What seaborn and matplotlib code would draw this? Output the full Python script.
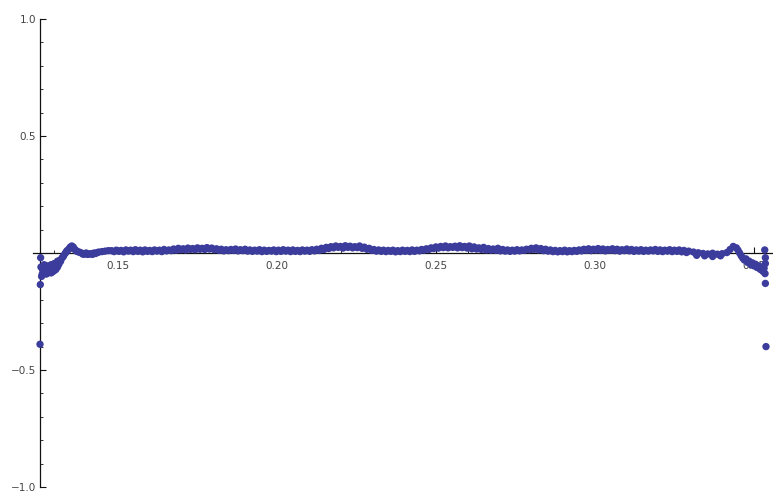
import matplotlib
matplotlib.use("Agg")
import matplotlib.pyplot as plt
from matplotlib.ticker import MultipleLocator, FixedLocator
import seaborn as sns
import pandas as pd

# ---- sampled residuals: left edge, flat middle band, right edge ----
x_left = [0.1255, 0.1256, 0.1257, 0.1258, 0.1260, 0.1262, 0.1263, 0.1266, 0.1268,
          0.1270, 0.1272, 0.1275, 0.1278, 0.1280, 0.1283, 0.1285, 0.1290, 0.1290,
          0.1293, 0.1295, 0.1300, 0.1300, 0.1303, 0.1305, 0.1310, 0.1310, 0.1313,
          0.1315, 0.1318, 0.1320, 0.1325, 0.1328, 0.1330, 0.1335, 0.1338, 0.1340,
          0.1345, 0.1348, 0.1350, 0.1355, 0.1358, 0.1360, 0.1365, 0.1368, 0.1370,
          0.1375, 0.1380, 0.1385, 0.1390, 0.1395, 0.1400, 0.1405, 0.1410, 0.1415,
          0.1420, 0.1425, 0.1430, 0.1435, 0.1440, 0.1450, 0.1460, 0.1470]
y_left = [-0.390, -0.135, -0.020, -0.060, -0.100, -0.090, -0.070, -0.085, -0.050,
          -0.080, -0.065, -0.090, -0.055, -0.085, -0.070, -0.080, -0.085, -0.050,
          -0.065, -0.080, -0.075, -0.045, -0.060, -0.070, -0.060, -0.035, -0.050,
          -0.045, -0.030, -0.035, -0.020, -0.015, -0.010, 0.000, 0.005, 0.010,
          0.015, 0.020, 0.025, 0.030, 0.022, 0.025, 0.015, 0.010, 0.008,
          0.005, 0.003, 0.000, -0.005, -0.005, 0.000, -0.006, -0.004, -0.003,
          -0.006, 0.000, -0.002, 0.002, 0.004, 0.006, 0.008, 0.010]

x_mid = [0.1480, 0.1495, 0.1510, 0.1525, 0.1540, 0.1555, 0.1570, 0.1585, 0.1600,
         0.1615, 0.1630, 0.1645, 0.1660, 0.1675, 0.1690, 0.1705, 0.1720, 0.1735,
         0.1750, 0.1765, 0.1780, 0.1795, 0.1810, 0.1825, 0.1840, 0.1855, 0.1870,
         0.1885, 0.1900, 0.1915, 0.1930, 0.1945, 0.1960, 0.1975, 0.1990, 0.2005,
         0.2020, 0.2035, 0.2050, 0.2065, 0.2080, 0.2095, 0.2110, 0.2125, 0.2140,
         0.2155, 0.2170, 0.2185, 0.2200, 0.2215, 0.2230, 0.2245, 0.2260, 0.2275,
         0.2290, 0.2305, 0.2320, 0.2335, 0.2350, 0.2365, 0.2380, 0.2395, 0.2410,
         0.2425, 0.2440, 0.2455, 0.2470, 0.2485, 0.2500, 0.2515, 0.2530, 0.2545,
         0.2560, 0.2575, 0.2590, 0.2605, 0.2620, 0.2635, 0.2650, 0.2665, 0.2680,
         0.2695, 0.2710, 0.2725, 0.2740, 0.2755, 0.2770, 0.2785, 0.2800, 0.2815,
         0.2830, 0.2845, 0.2860, 0.2875, 0.2890, 0.2905, 0.2920, 0.2935, 0.2950,
         0.2965, 0.2980, 0.2995, 0.3010, 0.3025, 0.3040, 0.3055, 0.3070, 0.3085,
         0.3100, 0.3115, 0.3130, 0.3145, 0.3160, 0.3175, 0.3190, 0.3205, 0.3220,
         0.3235, 0.3250, 0.3265, 0.3280, 0.3295, 0.3310, 0.3320, 0.3325, 0.3340,
         0.3345, 0.3355, 0.3370, 0.3370, 0.3385, 0.3395, 0.3400, 0.3415, 0.3425,
         0.3435, 0.3445]
y_mid = [0.010, 0.012, 0.011, 0.013, 0.012, 0.014, 0.012, 0.013, 0.011,
         0.013, 0.012, 0.015, 0.013, 0.017, 0.020, 0.018, 0.021, 0.019,
         0.022, 0.020, 0.023, 0.021, 0.018, 0.016, 0.014, 0.015, 0.017,
         0.014, 0.016, 0.013, 0.012, 0.014, 0.012, 0.011, 0.013, 0.012,
         0.014, 0.012, 0.013, 0.011, 0.013, 0.012, 0.014, 0.016, 0.020,
         0.024, 0.027, 0.030, 0.028, 0.031, 0.029, 0.027, 0.030, 0.025,
         0.020, 0.015, 0.013, 0.012, 0.011, 0.012, 0.010, 0.012, 0.011,
         0.013, 0.012, 0.015, 0.018, 0.022, 0.026, 0.028, 0.030, 0.027,
         0.029, 0.031, 0.028, 0.030, 0.026, 0.022, 0.024, 0.019, 0.017,
         0.020, 0.015, 0.013, 0.012, 0.014, 0.013, 0.016, 0.020, 0.022,
         0.019, 0.016, 0.013, 0.011, 0.010, 0.012, 0.010, 0.011, 0.013,
         0.016, 0.018, 0.016, 0.019, 0.017, 0.015, 0.018, 0.016, 0.014,
         0.017, 0.015, 0.013, 0.014, 0.012, 0.013, 0.015, 0.013, 0.012,
         0.014, 0.012, 0.013, 0.011, 0.008, 0.004, -0.010, 0.001, -0.002,
         -0.012, -0.004, -0.001, -0.015, -0.005, -0.012, -0.003, 0.002, 0.015,
         0.028, 0.022]

# lower edge of the band, sampled between the points above
x_lower = [0.1488, 0.1503, 0.1518, 0.1533, 0.1548, 0.1563, 0.1578, 0.1593, 0.1608,
           0.1623, 0.1638, 0.1653, 0.1668, 0.1683, 0.1698, 0.1713, 0.1728, 0.1743,
           0.1758, 0.1773, 0.1788, 0.1803, 0.1818, 0.1833, 0.1848, 0.1863, 0.1878,
           0.1893, 0.1908, 0.1923, 0.1938, 0.1953, 0.1968, 0.1983, 0.1998, 0.2013,
           0.2028, 0.2043, 0.2058, 0.2073, 0.2088, 0.2103, 0.2118, 0.2133, 0.2148,
           0.2163, 0.2178, 0.2193, 0.2208, 0.2223, 0.2238, 0.2253, 0.2268, 0.2283,
           0.2298, 0.2313, 0.2328, 0.2343, 0.2358, 0.2373, 0.2388, 0.2403, 0.2418,
           0.2433, 0.2448, 0.2463, 0.2478, 0.2493, 0.2508, 0.2523, 0.2538, 0.2553,
           0.2568, 0.2583, 0.2598, 0.2613, 0.2628, 0.2643, 0.2658, 0.2673, 0.2688,
           0.2703, 0.2718, 0.2733, 0.2748, 0.2763, 0.2778, 0.2793, 0.2808, 0.2823,
           0.2838, 0.2853, 0.2868, 0.2883, 0.2898, 0.2913, 0.2928, 0.2943, 0.2958,
           0.2973, 0.2988, 0.3003, 0.3018, 0.3033, 0.3048, 0.3063, 0.3078, 0.3093,
           0.3108, 0.3123, 0.3138, 0.3153, 0.3168, 0.3183, 0.3198, 0.3213, 0.3228,
           0.3243, 0.3258, 0.3273, 0.3288]
y_lower = [0.006, 0.007, 0.005, 0.008, 0.006, 0.007, 0.005, 0.007, 0.006,
           0.008, 0.006, 0.009, 0.010, 0.012, 0.014, 0.013, 0.015, 0.014,
           0.016, 0.015, 0.017, 0.014, 0.011, 0.009, 0.010, 0.011, 0.009,
           0.010, 0.008, 0.007, 0.008, 0.006, 0.007, 0.008, 0.006, 0.007,
           0.008, 0.006, 0.007, 0.006, 0.008, 0.007, 0.009, 0.011, 0.015,
           0.019, 0.022, 0.024, 0.021, 0.024, 0.022, 0.023, 0.020, 0.016,
           0.011, 0.008, 0.007, 0.006, 0.007, 0.005, 0.006, 0.007, 0.006,
           0.007, 0.009, 0.012, 0.015, 0.019, 0.021, 0.023, 0.022, 0.024,
           0.022, 0.023, 0.021, 0.018, 0.017, 0.015, 0.013, 0.012, 0.011,
           0.009, 0.008, 0.007, 0.008, 0.009, 0.011, 0.014, 0.015, 0.013,
           0.010, 0.008, 0.006, 0.005, 0.006, 0.005, 0.006, 0.007, 0.009,
           0.011, 0.010, 0.012, 0.011, 0.009, 0.011, 0.010, 0.008, 0.010,
           0.009, 0.007, 0.008, 0.007, 0.008, 0.009, 0.007, 0.006, 0.008,
           0.006, 0.007, 0.005, 0.002]

x_right = [0.3450, 0.3455, 0.3460, 0.3465, 0.3470, 0.3475, 0.3480, 0.3485, 0.3490,
           0.3495, 0.3500, 0.3505, 0.3510, 0.3515, 0.3520, 0.3525, 0.3528, 0.3532,
           0.3535, 0.3536, 0.3536, 0.3534, 0.3536, 0.3538]
y_right = [0.012, 0.000, -0.012, -0.022, -0.030, -0.025, -0.040, -0.035, -0.050,
           -0.042, -0.055, -0.048, -0.062, -0.055, -0.070, -0.060, -0.078, -0.065,
           -0.088, -0.045, -0.020, 0.013, -0.130, -0.400]

x_major = [0.15, 0.20, 0.25, 0.30, 0.35]
y_major = [-1.0, -0.5, 0.5, 1.0]
x_labels = ["0.15", "0.20", "0.25", "0.30", "0.35"]
y_labels = ["-1.0", "-0.5", "0.5", "1.0"]

df = pd.DataFrame({"x": x_left + x_mid + x_lower + x_right,
                   "y": y_left + y_mid + y_lower + y_right})

sns.set_style("ticks")
plt.rcParams["font.family"] = ["DejaVu Sans"]

fig = plt.figure(figsize=(7.73, 4.94), dpi=100)
ax = fig.add_axes([0.0427, 0.0142, 0.9573, 0.9473])

sns.scatterplot(data=df, x="x", y="y", ax=ax, color="#3c3c9c", s=28,
                linewidth=0, edgecolor="none", zorder=3, clip_on=False)

ax.set_xlim(0.1233, 0.3560)
ax.set_ylim(-1.0, 1.0)

# Axes crossing style: y axis at the left sample edge, x axis at zero
ax.spines["left"].set_position(("data", 0.1255))
ax.spines["bottom"].set_position(("data", 0.0))
ax.spines["top"].set_visible(False)
ax.spines["right"].set_visible(False)
for side in ("left", "bottom"):
    ax.spines[side].set_color("#111111")
    ax.spines[side].set_linewidth(0.9)

ax.xaxis.set_major_locator(FixedLocator(x_major))
ax.xaxis.set_minor_locator(MultipleLocator(0.01))
ax.set_xticklabels(x_labels)
ax.yaxis.set_major_locator(FixedLocator(y_major))
ax.yaxis.set_minor_locator(MultipleLocator(0.1))
ax.set_yticklabels([t.replace("-", "\u2212") for t in y_labels])

ax.tick_params(axis="both", which="both", left=True, bottom=True,
               top=False, right=False)
ax.tick_params(axis="both", which="major", direction="in", length=4,
               width=0.8, color="#111111", labelsize=7.5, labelcolor="#444444")
ax.tick_params(axis="both", which="minor", direction="in", length=2.2,
               width=0.6, color="#111111")
ax.tick_params(axis="x", which="major", pad=6)
ax.tick_params(axis="y", which="major", pad=3)

ax.set_xlabel("")
ax.set_ylabel("")
ax.grid(False)

fig.savefig("out.png", dpi=100)
